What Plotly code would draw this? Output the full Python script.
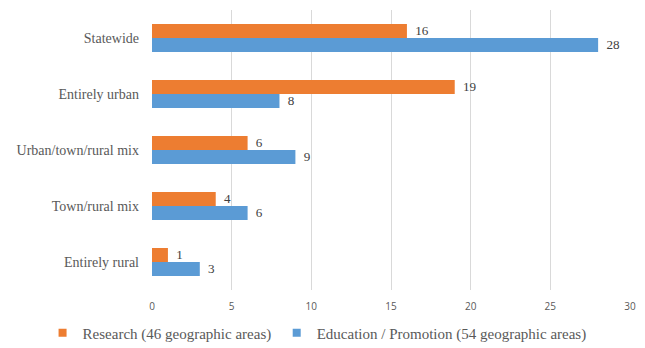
import plotly.graph_objects as go

categories = ["Statewide", "Entirely urban", "Urban/town/rural mix", "Town/rural mix", "Entirely rural"]
research = [16, 19, 6, 4, 1]
education = [28, 8, 9, 6, 3]
series_names = ["Research (46 geographic areas)", "Education / Promotion (54 geographic areas)"]
series_colors = ["#ED7D31", "#5B9BD5"]
x_ticks = [0, 5, 10, 15, 20, 25, 30]

serif = "Liberation Serif, Times New Roman, serif"

fig = go.Figure()
for vals, name, color in zip([research, education], series_names, series_colors):
    fig.add_trace(go.Bar(
        y=categories, x=vals, orientation="h", name=name, showlegend=False,
        marker=dict(color=color, line=dict(width=0)),
        texttemplate="\u2009\u2009%{x}", textposition="outside", cliponaxis=False,
        textfont=dict(family=serif, size=15, color="#404040"),
        hoverinfo="x+y",
    ))

# legend entries (small square swatches like the original)
for i, (name, color) in enumerate(zip(series_names, series_colors)):
    fig.add_trace(go.Scatter(
        x=[None], y=[None], mode="markers", name=name,
        marker=dict(symbol="square", size=8, color=color),
        legend="legend" if i == 0 else "legend2", showlegend=True,
    ))

legend_font = dict(family=serif, size=15, color="#595959")
fig.update_layout(
    width=645, height=348,
    margin=dict(l=152, r=15, t=10, b=58, autoexpand=False),
    barmode="group", bargap=0.5, bargroupgap=0,
    paper_bgcolor="white", plot_bgcolor="white",
    showlegend=True,
    legend=dict(orientation="h", xref="container", x=0.066, xanchor="left",
                yref="container", y=0.043, yanchor="middle",
                font=legend_font, itemwidth=30, bgcolor="rgba(0,0,0,0)"),
    legend2=dict(orientation="h", xref="container", x=0.429, xanchor="left",
                 yref="container", y=0.043, yanchor="middle",
                 font=legend_font, itemwidth=30, bgcolor="rgba(0,0,0,0)"),
    xaxis=dict(range=[0, 30], tickvals=x_ticks, showgrid=True, gridcolor="#D9D9D9", gridwidth=1,
               zeroline=False, showline=False, ticks="", ticklabelstandoff=9,
               tickfont=dict(family="Open Sans, sans-serif", size=10, color="#595959")),
    yaxis=dict(autorange="reversed", showgrid=False, showline=False, ticks="",
               ticklabelstandoff=12,
               tickfont=dict(family=serif, size=14, color="#595959")),
)

fig.write_html("out.html", config={"displayModeBar": False},
               post_script="document.body.style.margin='0';")
